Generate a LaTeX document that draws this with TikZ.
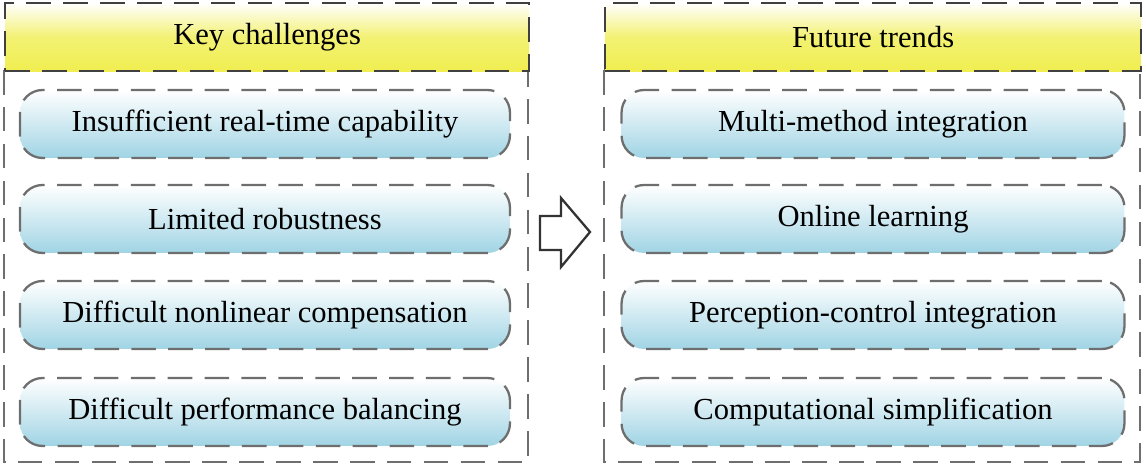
\documentclass[tikz,border=0pt]{standalone}
\usepackage{fontspec}
\setmainfont{Liberation Serif}
\usetikzlibrary{positioning}
\definecolor{hdryellow}{RGB}{240,238,80}
\definecolor{pillblue}{RGB}{160,212,228}
\definecolor{dashgray}{RGB}{110,110,110}
\tikzset{
  header/.style={draw=black!75, dash pattern=on 14pt off 7pt, line width=1.3pt,
    top color=white, bottom color=hdryellow, middle color=hdryellow!80,
    minimum width=10.48cm, minimum height=1.36cm, anchor=north west, inner sep=0pt,
    font=\fontsize{17.4}{20}\selectfont},
  frame/.style={draw=dashgray, dash pattern=on 14pt off 7pt, line width=1.3pt},
  pill/.style={draw=dashgray, dash pattern=on 14pt off 7pt, line width=1.3pt,
    rounded corners=0.45cm, top color=white, bottom color=pillblue,
    minimum width=9.8cm, minimum height=1.36cm, inner sep=0pt,
    font=\fontsize{17.4}{20}\selectfont}
}
\begin{document}
\begin{tikzpicture}[x=0.02cm, y=-0.02cm]
  \useasboundingbox (0,0) rectangle (1146,466);
  % left column
  \draw [frame] (4,70) rectangle (528,462);
  \node [header] (lhead) at (4,2) {Key challenges};
  \node [pill] (c1) at (265,124) {Insufficient real-time capability};
  \node [pill] (c2) at (265,219) {Limited robustness};
  \node [pill] (c3) at (265,315) {Difficult nonlinear compensation};
  \node [pill] (c4) at (265,412) {Difficult performance balancing};
  % right column
  \draw [frame] (604,70) rectangle (1140,462);
  \node [header, minimum width=10.72cm] (rhead) at (604,2) {Future trends};
  \node [pill, minimum width=10.06cm] (t1) at (873,124) {Multi-method integration};
  \node [pill, minimum width=10.06cm] (t2) at (873,219) {Online learning};
  \node [pill, minimum width=10.06cm] (t3) at (873,315) {Perception-control integration};
  \node [pill, minimum width=10.06cm] (t4) at (873,412) {Computational simplification};
  % arrow
  \draw [line width=1.3pt, black!80, line join=miter]
    (540,216) -- (561,216) -- (561,198) -- (590,232) -- (561,267) -- (561,250) -- (540,250) -- cycle;
\end{tikzpicture}
\end{document}
